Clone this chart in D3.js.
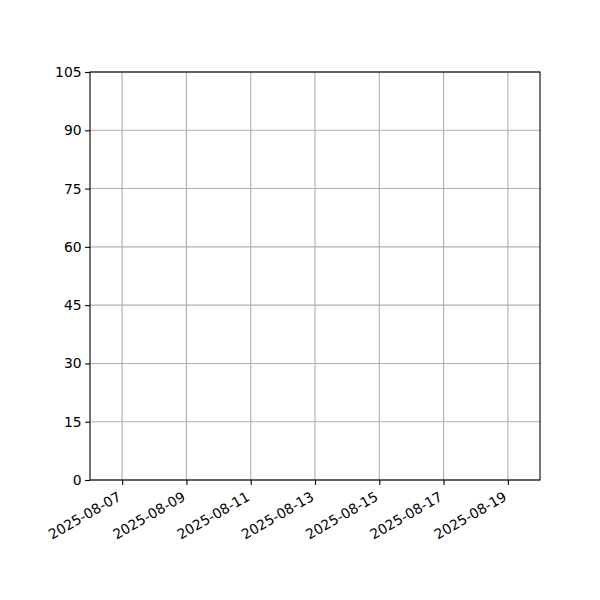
<!DOCTYPE html>
<html>
<head>
<meta charset="utf-8">
<script src="https://cdn.jsdelivr.net/npm/d3@7"></script>
<style>
  body { margin: 0; background: #fff; }
  text { font-family: "DejaVu Sans", sans-serif; }
</style>
</head>
<body>
<div id="chart"></div>
<script>
var w = 600;
var h = 600;
var margin = { top: 72, right: 60, bottom: 120, left: 90 };

// x range of the empty plot, and tick values
var dateRange = ["2025-08-06", "2025-08-20"];
var dateTicks = ["2025-08-07", "2025-08-09", "2025-08-11", "2025-08-13", "2025-08-15", "2025-08-17", "2025-08-19"];
var yRange = [0, 105];
var yTicks = [0, 15, 30, 45, 60, 75, 90, 105];

var parse = d3.timeParse("%Y-%m-%d");
var fmt = d3.timeFormat("%Y-%m-%d");

var svg = d3.select("#chart").append("svg").attr("width", w).attr("height", h);

var x = d3.scaleTime()
  .domain(dateRange.map(parse))
  .range([margin.left, w - margin.right]);

var y = d3.scaleLinear()
  .domain(yRange)
  .range([h - margin.bottom, margin.top]);

// grid lines
svg.append("g")
  .selectAll("line")
  .data(dateTicks.map(parse))
  .enter()
  .append("line")
  .attr("x1", function (d) { return x(d); })
  .attr("x2", function (d) { return x(d); })
  .attr("y1", y(yRange[0]))
  .attr("y2", y(yRange[1]))
  .attr("stroke", "#b0b0b0")
  .attr("stroke-width", 1.1);

svg.append("g")
  .selectAll("line")
  .data(yTicks)
  .enter()
  .append("line")
  .attr("x1", margin.left)
  .attr("x2", w - margin.right)
  .attr("y1", function (d) { return y(d); })
  .attr("y2", function (d) { return y(d); })
  .attr("stroke", "#b0b0b0")
  .attr("stroke-width", 1.1);

// axes
var xAxis = svg.append("g")
  .attr("transform", "translate(0," + (h - margin.bottom) + ")")
  .call(d3.axisBottom(x).tickValues(dateTicks.map(parse)).tickFormat(fmt).tickSizeInner(4.9).tickSizeOuter(0));

// rotated labels, right end of baseline just under the tick
xAxis.selectAll("text")
  .attr("font-size", "13.9px")
  .attr("fill", "#000")
  .attr("text-anchor", "end")
  .attr("x", 0)
  .attr("y", 0)
  .attr("dy", 0)
  .attr("transform", "translate(-0.6,19.5) rotate(-30)");

var yAxis = svg.append("g")
  .attr("transform", "translate(" + margin.left + ",0)")
  .call(d3.axisLeft(y).tickValues(yTicks).tickSizeInner(4.9).tickSizeOuter(0).tickPadding(3.5));

yAxis.selectAll("text").attr("font-size", "13.9px").attr("fill", "#000");

svg.selectAll(".domain").remove();
svg.selectAll(".tick line").attr("stroke", "#000").attr("stroke-width", 1.1);

// frame
svg.append("rect")
  .attr("x", margin.left)
  .attr("y", margin.top)
  .attr("width", w - margin.left - margin.right)
  .attr("height", h - margin.top - margin.bottom)
  .attr("fill", "none")
  .attr("stroke", "#000")
  .attr("stroke-width", 1.1);
</script>
</body>
</html>
